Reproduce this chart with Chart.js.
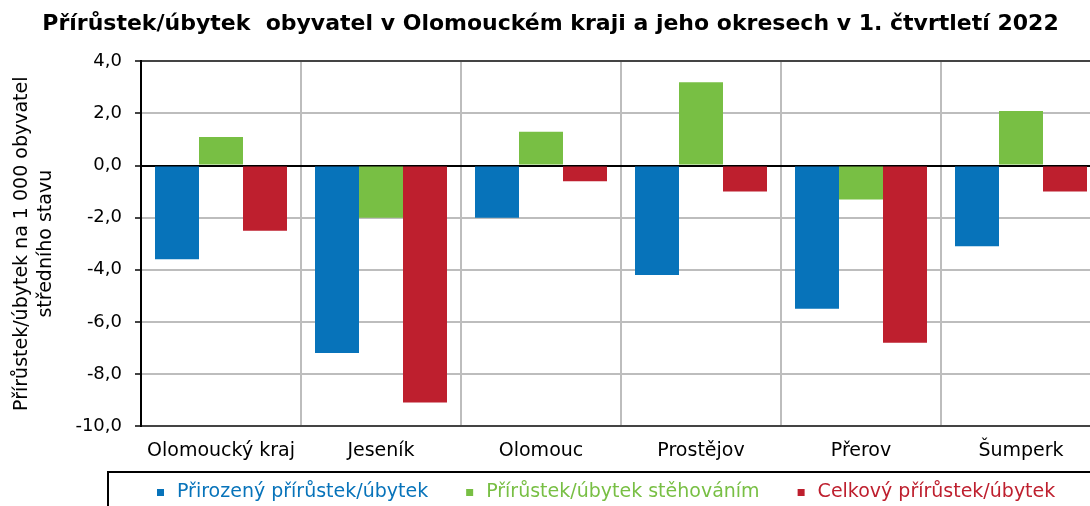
<!DOCTYPE html>
<html>
<head>
<meta charset="utf-8">
<script src="https://cdn.jsdelivr.net/npm/chart.js@4.4.1/dist/chart.umd.min.js"></script>
<style>
  html, body { margin: 0; padding: 0; background: #fff; overflow: hidden; }
  #wrap { width: 1120px; height: 506px; }
</style>
</head>
<body>
<div id="wrap"><canvas id="chart" width="1120" height="506"></canvas></div>
<script>
// categories and series
const districts = ['Olomoucký kraj', 'Jeseník', 'Olomouc', 'Prostějov', 'Přerov', 'Šumperk'];
const naturalChange = [-3.6, -7.2, -2.0, -4.2, -5.5, -3.1];
const migrationChange = [1.1, -2.0, 1.3, 3.2, -1.3, 2.1];
const totalChange = [-2.5, -9.1, -0.6, -1.0, -6.8, -1.0];
const seriesNames = ['Přirozený přírůstek/úbytek', 'Přírůstek/úbytek stěhováním', 'Celkový přírůstek/úbytek'];
const seriesColors = ['#0773ba', '#78bf44', '#be1f2e'];

const FONT = "'DejaVu Sans', sans-serif";

// framed legend under the axis, coloured text like the original sheet
const boxedLegend = {
    id: 'boxedLegend',
    afterDraw(chart) {
        const ctx = chart.ctx;
        const top = chart.chartArea.bottom + 46;
        ctx.save();
        ctx.strokeStyle = '#000';
        ctx.lineWidth = 2;
        ctx.strokeRect(108, top, chart.width, 60);
        ctx.font = '19px ' + FONT;
        ctx.textBaseline = 'middle';
        let x = 157;
        chart.data.datasets.forEach(ds => {
            ctx.fillStyle = ds.backgroundColor;
            ctx.fillRect(x, top + 17, 7, 7);
            ctx.fillText(ds.label, x + 20, top + 20);
            x += 20 + ctx.measureText(ds.label).width + 38;
        });
        ctx.restore();
    }
};

const ctx = document.getElementById('chart').getContext('2d');
new Chart(ctx, {
    type: 'bar',
    data: {
        labels: districts,
        datasets: [naturalChange, migrationChange, totalChange].map((vals, i) => ({
            label: seriesNames[i],
            data: vals,
            backgroundColor: seriesColors[i],
            borderWidth: 0,
            categoryPercentage: 0.825,
            barPercentage: 1.0
        }))
    },
    options: {
        responsive: false,
        animation: false,
        layout: { padding: { left: 0, right: 19, top: 0, bottom: 40 } },
        plugins: {
            title: {
                display: true,
                text: 'Přírůstek/úbytek  obyvatel v Olomouckém kraji a jeho okresech v 1. čtvrtletí 2022',
                color: '#000',
                font: { family: FONT, size: 22, weight: 'bold' },
                padding: { top: 11, bottom: 24 }
            },
            legend: { display: false },
            tooltip: { enabled: false }
        },
        scales: {
            x: {
                grid: { color: '#bdbdbd', lineWidth: 2, offset: true, drawTicks: false },
                border: { color: '#444', width: 2 },
                ticks: { color: '#000', font: { family: FONT, size: 19 }, padding: 14 },
                afterFit(scale) { scale.height = 40; }
            },
            y: {
                min: -10,
                max: 4,
                ticks: {
                    stepSize: 2,
                    color: '#000',
                    padding: 13,
                    font: { family: FONT, size: 18 },
                    callback: v => v.toFixed(1).replace('.', ',')
                },
                grid: {
                    lineWidth: 2,
                    tickLength: 6,
                    tickColor: '#444',
                    color: c => c.tick && c.tick.value === 0 ? '#000' : (c.tick && c.tick.value === 4 ? '#444' : '#bdbdbd')
                },
                border: { color: '#000', width: 2 },
                title: {
                    display: true,
                    text: ['Přírůstek/úbytek na 1 000 obyvatel', 'středního stavu'],
                    color: '#000',
                    font: { family: FONT, size: 19, lineHeight: 1.25 },
                    padding: { top: 10, bottom: 0 }
                },
                afterFit(scale) { scale.width = 141; }
            }
        }
    },
    plugins: [boxedLegend]
});
</script>
</body>
</html>
